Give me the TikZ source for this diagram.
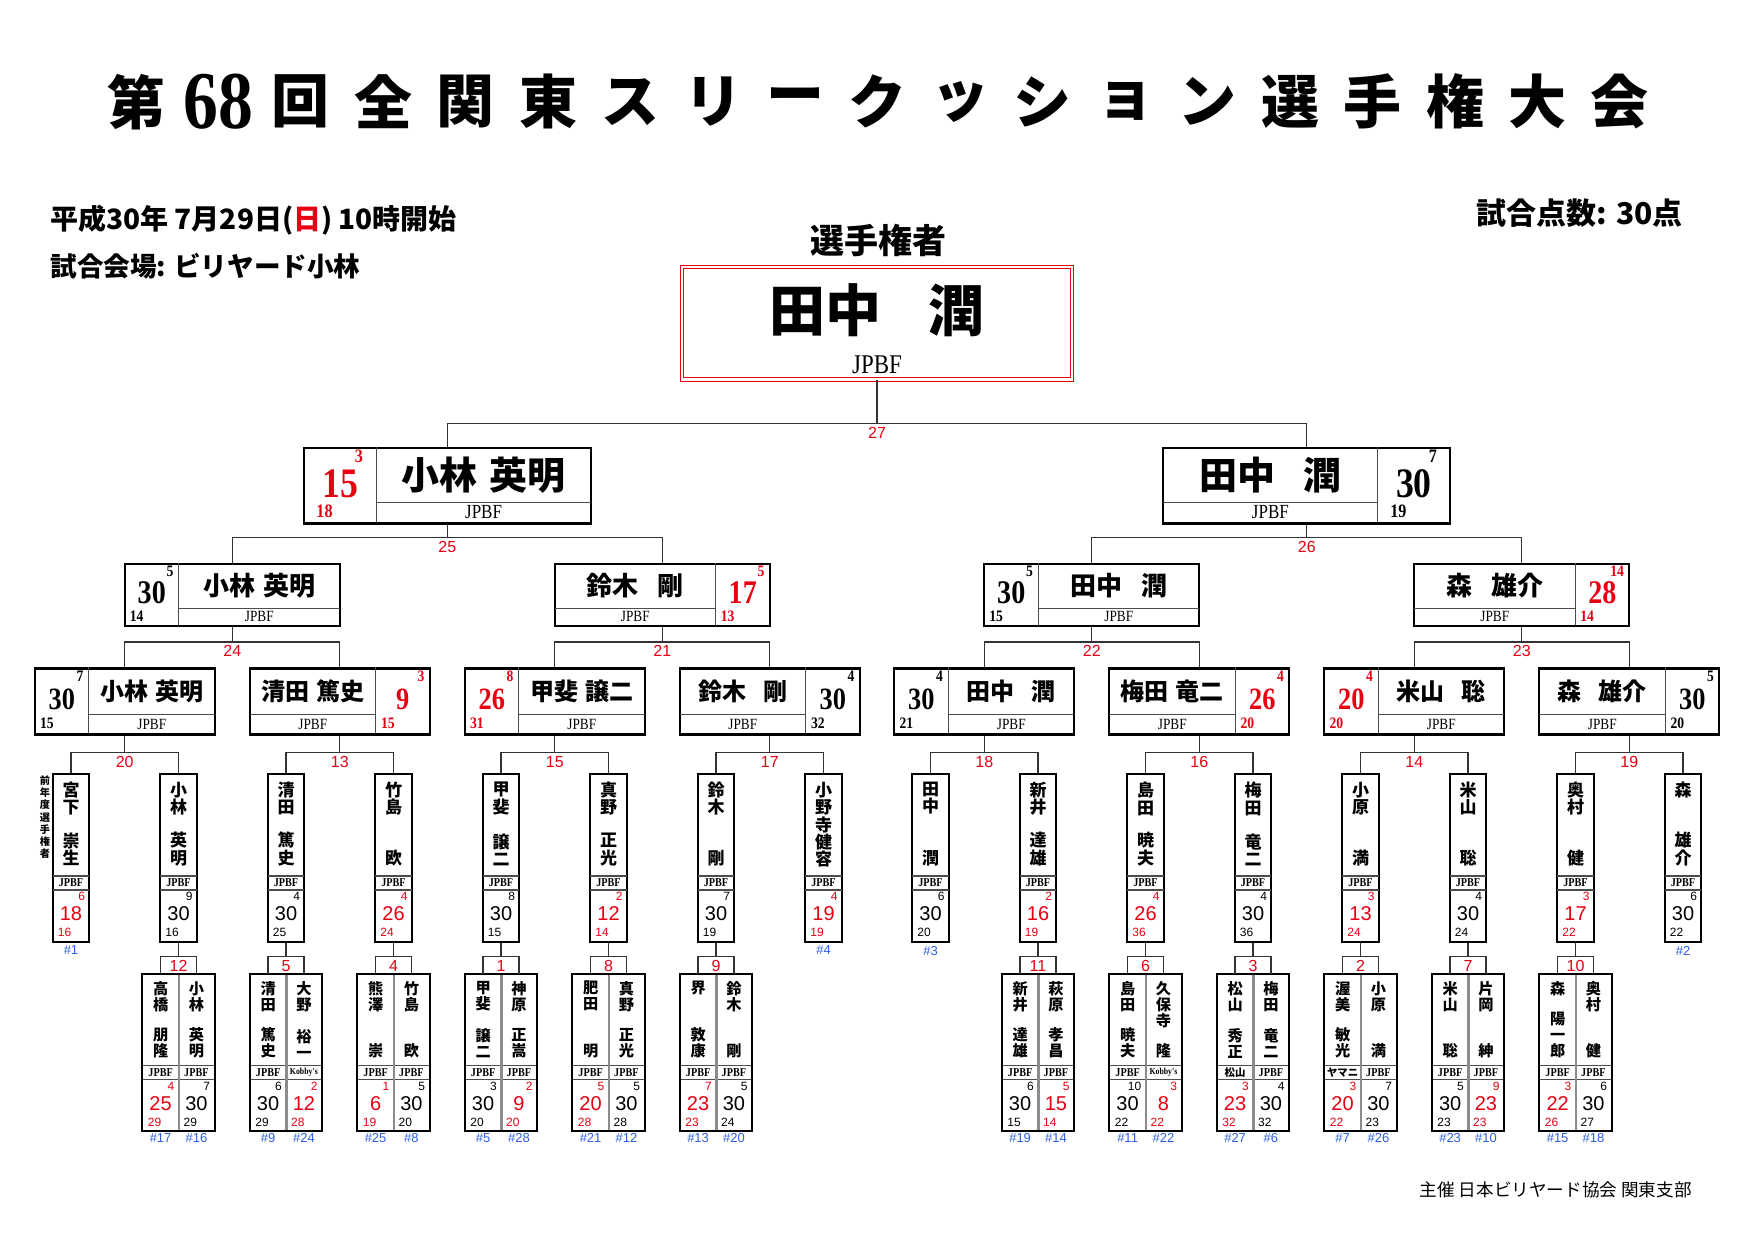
\documentclass[tikz,border=0pt]{standalone}
\usepackage{fontspec}
\newfontfamily\jp{Noto Sans CJK JP}
\newfontfamily\numf[FakeStretch=0.85]{Liberation Serif}
\newfontfamily\sansf{Liberation Sans}
\definecolor{jred}{RGB}{230,0,18}
\definecolor{jblue}{RGB}{45,95,225}
\newcommand\FS[1]{\fontsize{#1pt}{#1pt}\selectfont}
\newcommand\nsp{\hspace{0.3em}}
\newcommand\wsp{\hspace{0.72em}}
\newcommand\titlenum[1]{{\numf\bfseries\FS{41}#1}}
\newcommand\kobby{{\numf\bfseries\FS{4.6}Kobby's}}
\newcommand\jclub[1]{{\jp\bfseries\FS{5.2}#1}}

\tikzset{
 box/.style={draw=black, line width=1.1pt, inner sep=0pt},
 inner/.style={draw=black!70, line width=0.55pt},
 conn/.style={draw=black!80, line width=0.65pt},
 middiv/.style={draw=black!45, line width=1.3pt},
 mlabel/.style={text=jred, font=\sansf\FS{8}, inner sep=0pt, anchor=north},
 seed/.style={text=jblue, font=\sansf\FS{6.5}, inner sep=1.2pt, anchor=north},
 vname/.style={font=\jp\bfseries\fontsize{\vFpt pt}{\vPpt pt}\selectfont, align=center, inner sep=0pt},
 vclub/.style={font=\numf\bfseries\FS{6}, inner sep=0pt},
 vbig/.style={font=\sansf\FS{10}, inner sep=0pt},
 vsmall/.style={font=\sansf\FS{6}, inner sep=0pt},
 hname/.style={font=\jp\bfseries\fontsize{\hNF pt}{\hNF pt}\selectfont, inner sep=0pt},
 hclub/.style={font=\numf\fontsize{\hJF pt}{\hJF pt}\selectfont, inner sep=0pt},
 hbig/.style={font=\numf\bfseries\fontsize{\hBF pt}{\hBF pt}\selectfont, inner sep=0pt},
 hsmall/.style={font=\numf\bfseries\fontsize{\hSF pt}{\hSF pt}\selectfont, inner sep=0pt},
 titlech/.style={font=\jp\bfseries\FS{29}, inner sep=0pt},
 vframe/.style={box},
}

% geometry of the first-round (vertical) boxes
\def\setS{\def\vT{773}\def\vNm{876}\def\vJp{890}\def\vB{941}\def\vW{36.6}%
 \def\vFirst{789.3}\def\vLast{858.7}\def\vFpt{8.5}\def\vPpt{8.68}%
 \def\vSupY{896.7}\def\vBigY{914}\def\vSubY{932.7}\tikzset{vframe/.style={box}}}
\def\setD{\def\vT{974}\def\vNm{1065.7}\def\vJp{1079.3}\def\vB{1130}\def\vW{35.8}%
 \def\vFirst{987.7}\def\vLast{1051.7}\def\vFpt{7.6}\def\vPpt{8}%
 \def\vSupY{1086.7}\def\vBigY{1104}\def\vSubY{1122.3}\tikzset{vframe/.style={draw=none,inner sep=0pt}}}

% name, cx, top chars, bottom chars, club, big, sup, sub, colour
\newcommand\VBox[9]{%
 \node[vframe, minimum width={\vW*0.5pt}, minimum height={(\vB-\vT)*0.5pt}, anchor=north] (#1) at (#2,\vT) {};
 \draw[inner] ({#2-\vW/2},\vNm) -- ({#2+\vW/2},\vNm);
 \draw[inner] ({#2-\vW/2},\vJp) -- ({#2+\vW/2},\vJp);
 \node[vname, anchor=north] (#1t) at (#2,{\vFirst-0.9*\vFpt}) {#3};
 \node[vname, anchor=south] (#1b) at (#2,{\vLast+0.9*\vFpt}) {#4};
 \node[vclub] (#1c) at (#2,{(\vNm+\vJp)/2}) {#5};
 \node[vbig, text=#9] (#1s) at (#2,\vBigY) {#6};
 \node[vsmall, text=#9, anchor=east] (#1u) at ({#2+\vW/2-3.8},\vSupY) {#7};
 \node[vsmall, text=#9, anchor=west] (#1d) at ({#2-\vW/2+4.8},\vSubY) {#8};
}
\newcommand\DFrame[2]{%
 \draw[middiv] (#1.north east) -- (#1.south east);
 \draw[box] (#1.north west) rectangle (#2.south east);}

% geometry of the horizontal boxes
\def\setLtwo{\def\hT{667.3}\def\hH{66}\def\hW{180}\def\hD{47.4}\def\hS{54}\def\hNF{12}\def\hJF{7.8}\def\hBF{15.5}\def\hSF{8}\def\hSupR{5}\def\hSupy{9.4}\def\hBy{31.7}\def\hSubx{5}\def\hSuby{56}}
\def\setLthree{\def\hT{562.7}\def\hH{62.3}\def\hW{215}\def\hD{45.6}\def\hS{54}\def\hNF{13}\def\hJF{7.8}\def\hBF{16.5}\def\hSF{8}\def\hSupR{5}\def\hSupy{9}\def\hBy{29.8}\def\hSubx{4.6}\def\hSuby{54}}
\def\setLfour{\def\hT{446.7}\def\hH{75.6}\def\hW{287}\def\hD{56}\def\hS{72.7}\def\hNF{19}\def\hJF{10}\def\hBF{21}\def\hSF{9.5}\def\hSupR{13}\def\hSupy{10}\def\hBy{37}\def\hSubx{12.3}\def\hSuby{65}}

% name, cx, side (L/R), name text, big, sup, sub, colour
\newcommand\HBoxN[8]{%
 \pgfmathsetmacro\bxl{#2-\hW/2}\pgfmathsetmacro\bxr{#2+\hW/2}%
 \if#3L\pgfmathsetmacro\sxa{\bxl}\pgfmathsetmacro\sxb{\bxl+\hS}\pgfmathsetmacro\nxa{\sxb}\pgfmathsetmacro\nxb{\bxr}\pgfmathsetmacro\dvx{\sxb}%
 \else\pgfmathsetmacro\sxb{\bxr}\pgfmathsetmacro\sxa{\bxr-\hS}\pgfmathsetmacro\nxa{\bxl}\pgfmathsetmacro\nxb{\sxa}\pgfmathsetmacro\dvx{\sxa}\fi
 \node[box, minimum width={\hW*0.5pt}, minimum height={\hH*0.5pt}, anchor=north] (#1) at (#2,\hT) {};
 \draw[inner] (\dvx,\hT) -- (\dvx,{\hT+\hH});
 \draw[inner] (\nxa,{\hT+\hD}) -- (\nxb,{\hT+\hD});
 \node[hname] (#1n) at ({(\nxa+\nxb)/2},{\hT+\hD/2}) {#4};
 \node[hclub] (#1c) at ({(\nxa+\nxb)/2},{\hT+(\hD+\hH)/2}) {JPBF};
 \node[hbig, text=#8] (#1s) at ({(\sxa+\sxb)/2},{\hT+\hBy}) {#5};
 \node[hsmall, text=#8, anchor=east] (#1u) at ({\sxb-\hSupR},{\hT+\hSupy}) {#6};
 \node[hsmall, text=#8, anchor=west] (#1d) at ({\sxa+\hSubx},{\hT+\hSuby}) {#7};
}

% parent, child a, child b, y of the bar, match number
\newcommand\Bracket[5]{%
 \coordinate (#1j) at (#1.south |- 0,#4);
 \draw[conn] (#1.south) -- (#1j);
 \draw[conn] (#2.north) |- (#1j) -| (#3.north);
 \node[mlabel] (#1m) at ([yshift=-1.7pt]#1j) {#5};
}

\begin{document}
\begin{tikzpicture}[x=0.5pt,y=-0.5pt]
\path[use as bounding box, fill=white] (0,0) rectangle (1754,1240);

% title
\foreach \c [count=\i] in {第,{\titlenum{68}},回,全,関,東,ス,リ,ー,ク,ッ,シ,ョ,ン,選,手,権,大,会}
  \node[titlech] (t\i) at ({136+82.44*(\i-1)},101.7) {\c};

\node[anchor=west, inner sep=0pt, font=\jp\bfseries\FS{14}] (date) at (50,220) {平成30年 7月29日(\textcolor{jred}{日}) 10時開始};
\node[anchor=west, inner sep=0pt, font=\jp\bfseries\FS{13.3}] (venue) at (50,266) {試合会場: ビリヤード小林};
\node[anchor=east, inner sep=0pt, font=\jp\bfseries\FS{15}] (pts) at (1683,213) {試合点数: 30点};
\node[anchor=east, inner sep=0pt, font=\jp\FS{8.8}] (org) at (1692,1190) {主催 日本ビリヤード協会 関東支部};
\node[inner sep=0pt, font=\jp\bfseries\FS{17}] (champlbl) at (878,240) {選手権者};

% champion
\node[draw=jred, double=white, double distance=1.2pt, line width=0.5pt, minimum width=195pt, minimum height=56.25pt, anchor=north, inner sep=0pt] (champ) at (877,266.5) {};
\node[inner sep=0pt, font=\jp\bfseries\FS{28}] (champn) at (877,310) {田中\hspace{0.85em}潤};
\node[inner sep=0pt, font=\numf\FS{13.5}] (champc) at (877,365) {JPBF};

% level 4
\setLfour
\HBoxN{l4a}{447.25}{L}{小林\nsp{}英明}{15}{3}{18}{jred}
\HBoxN{l4b}{1306.75}{R}{田中\wsp{}潤}{30}{7}{19}{black}
% level 3
\setLthree
\HBoxN{l3a}{232.25}{L}{小林\nsp{}英明}{30}{5}{14}{black}
\HBoxN{l3b}{662.25}{R}{鈴木\wsp{}剛}{17}{5}{13}{jred}
\HBoxN{l3c}{1091.75}{L}{田中\wsp{}潤}{30}{5}{15}{black}
\HBoxN{l3d}{1521.75}{R}{森\wsp{}雄介}{28}{14}{14}{jred}
% level 2
\setLtwo
\HBoxN{l2a}{124.75}{L}{小林\nsp{}英明}{30}{7}{15}{black}
\HBoxN{l2b}{339.75}{R}{清田\nsp{}篤史}{9}{3}{15}{jred}
\HBoxN{l2c}{554.75}{L}{甲斐\nsp{}譲二}{26}{8}{31}{jred}
\HBoxN{l2d}{769.75}{R}{鈴木\wsp{}剛}{30}{4}{32}{black}
\HBoxN{l2e}{984.25}{L}{田中\wsp{}潤}{30}{4}{21}{black}
\HBoxN{l2f}{1199.25}{R}{梅田\nsp{}竜二}{26}{4}{20}{jred}
\HBoxN{l2g}{1414.25}{L}{米山\wsp{}聡}{20}{4}{20}{jred}
\HBoxN{l2h}{1629.25}{R}{森\wsp{}雄介}{30}{5}{20}{black}

% level 1 (single vertical boxes)
\setS
\VBox{v0}{71}{宮\\下}{崇\\生}{JPBF}{18}{6}{16}{jred}
\VBox{v1}{178.5}{小\\林}{英\\明}{JPBF}{30}{9}{16}{black}
\VBox{v2}{286}{清\\田}{篤\\史}{JPBF}{30}{4}{25}{black}
\VBox{v3}{393.5}{竹\\島}{欧}{JPBF}{26}{4}{24}{jred}
\VBox{v4}{501}{甲\\斐}{譲\\二}{JPBF}{30}{8}{15}{black}
\VBox{v5}{608.5}{真\\野}{正\\光}{JPBF}{12}{2}{14}{jred}
\VBox{v6}{716}{鈴\\木}{剛}{JPBF}{30}{7}{19}{black}
\VBox{v7}{823.5}{小\\野\\寺\\健\\容}{}{JPBF}{19}{4}{19}{jred}
\VBox{v8}{930.5}{田\\中}{潤}{JPBF}{30}{6}{20}{black}
\VBox{v9}{1038}{新\\井}{達\\雄}{JPBF}{16}{2}{19}{jred}
\VBox{v10}{1145.5}{島\\田}{暁\\夫}{JPBF}{26}{4}{36}{jred}
\VBox{v11}{1253}{梅\\田}{竜\\二}{JPBF}{30}{4}{36}{black}
\VBox{v12}{1360.5}{小\\原}{満}{JPBF}{13}{3}{24}{jred}
\VBox{v13}{1468}{米\\山}{聡}{JPBF}{30}{4}{24}{black}
\VBox{v14}{1575.5}{奥\\村}{健}{JPBF}{17}{3}{22}{jred}
\VBox{v15}{1683}{森}{雄\\介}{JPBF}{30}{6}{22}{black}

\node[align=center, anchor=north, inner sep=0pt, font=\jp\bfseries\fontsize{5.1pt}{6.15pt}\selectfont] (prev) at (45,775) {前\\年\\度\\選\\手\\権\\者};

% opening round (double boxes)
\setD
\VBox{d1a}{160.6}{高\\橋}{朋\\隆}{JPBF}{25}{4}{29}{jred}
\VBox{d1b}{196.4}{小\\林}{英\\明}{JPBF}{30}{7}{29}{black}
\VBox{d2a}{268.1}{清\\田}{篤\\史}{JPBF}{30}{6}{29}{black}
\VBox{d2b}{303.9}{大\\野}{裕\\一}{\kobby}{12}{2}{28}{jred}
\VBox{d3a}{375.6}{熊\\澤}{崇}{JPBF}{6}{1}{19}{jred}
\VBox{d3b}{411.4}{竹\\島}{欧}{JPBF}{30}{5}{20}{black}
\VBox{d4a}{483.1}{甲\\斐}{譲\\二}{JPBF}{30}{3}{20}{black}
\VBox{d4b}{518.9}{神\\原}{正\\嵩}{JPBF}{9}{2}{20}{jred}
\VBox{d5a}{590.6}{肥\\田}{明}{JPBF}{20}{5}{28}{jred}
\VBox{d5b}{626.4}{真\\野}{正\\光}{JPBF}{30}{5}{28}{black}
\VBox{d6a}{698.1}{界}{敦\\康}{JPBF}{23}{7}{23}{jred}
\VBox{d6b}{733.9}{鈴\\木}{剛}{JPBF}{30}{5}{24}{black}
\VBox{d9a}{1020.1}{新\\井}{達\\雄}{JPBF}{30}{6}{15}{black}
\VBox{d9b}{1055.9}{萩\\原}{孝\\昌}{JPBF}{15}{5}{14}{jred}
\VBox{d10a}{1127.6}{島\\田}{暁\\夫}{JPBF}{30}{10}{22}{black}
\VBox{d10b}{1163.4}{久\\保\\寺}{隆}{\kobby}{8}{3}{22}{jred}
\VBox{d11a}{1235.1}{松\\山}{秀\\正}{\jclub{松山}}{23}{3}{32}{jred}
\VBox{d11b}{1270.9}{梅\\田}{竜\\二}{JPBF}{30}{4}{32}{black}
\VBox{d12a}{1342.6}{渥\\美}{敏\\光}{\jclub{ヤマニ}}{20}{3}{22}{jred}
\VBox{d12b}{1378.4}{小\\原}{満}{JPBF}{30}{7}{23}{black}
\VBox{d13a}{1450.1}{米\\山}{聡}{JPBF}{30}{5}{23}{black}
\VBox{d13b}{1485.9}{片\\岡}{紳}{JPBF}{23}{9}{23}{jred}
\VBox{d14a}{1557.6}{森}{陽\\一\\郎}{JPBF}{22}{3}{26}{jred}
\VBox{d14b}{1593.4}{奥\\村}{健}{JPBF}{30}{6}{27}{black}
\DFrame{d1a}{d1b}\DFrame{d2a}{d2b}\DFrame{d3a}{d3b}\DFrame{d4a}{d4b}
\DFrame{d5a}{d5b}\DFrame{d6a}{d6b}\DFrame{d9a}{d9b}\DFrame{d10a}{d10b}
\DFrame{d11a}{d11b}\DFrame{d12a}{d12b}\DFrame{d13a}{d13b}\DFrame{d14a}{d14b}

% seeds
\node[seed] (s1) at (v0.south) {\#1};
\node[seed] (s4) at (v7.south) {\#4};
\node[seed] (s3) at (v8.south) {\#3};
\node[seed] (s2) at (v15.south) {\#2};
\foreach \n/\s in {d1a/17,d1b/16,d2a/9,d2b/24,d3a/25,d3b/8,d4a/5,d4b/28,d5a/21,d5b/12,d6a/13,d6b/20,d9a/19,d9b/14,d10a/11,d10b/22,d11a/27,d11b/6,d12a/7,d12b/26,d13a/23,d13b/10,d14a/15,d14b/18}
  \node[seed] (s\s) at (\n.south) {\#\s};

% connectors
\Bracket{v1}{d1a}{d1b}{956.7}{12}
\Bracket{v2}{d2a}{d2b}{956.7}{5}
\Bracket{v3}{d3a}{d3b}{956.7}{4}
\Bracket{v4}{d4a}{d4b}{956.7}{1}
\Bracket{v5}{d5a}{d5b}{956.7}{8}
\Bracket{v6}{d6a}{d6b}{956.7}{9}
\Bracket{v9}{d9a}{d9b}{956.7}{11}
\Bracket{v10}{d10a}{d10b}{956.7}{6}
\Bracket{v11}{d11a}{d11b}{956.7}{3}
\Bracket{v12}{d12a}{d12b}{956.7}{2}
\Bracket{v13}{d13a}{d13b}{956.7}{7}
\Bracket{v14}{d14a}{d14b}{956.7}{10}

\Bracket{l2a}{v0}{v1}{752.7}{20}
\Bracket{l2b}{v2}{v3}{752.7}{13}
\Bracket{l2c}{v4}{v5}{752.7}{15}
\Bracket{l2d}{v6}{v7}{752.7}{17}
\Bracket{l2e}{v8}{v9}{752.7}{18}
\Bracket{l2f}{v10}{v11}{752.7}{16}
\Bracket{l2g}{v12}{v13}{752.7}{14}
\Bracket{l2h}{v14}{v15}{752.7}{19}

\Bracket{l3a}{l2a}{l2b}{642}{24}
\Bracket{l3b}{l2c}{l2d}{642}{21}
\Bracket{l3c}{l2e}{l2f}{642}{22}
\Bracket{l3d}{l2g}{l2h}{642}{23}

\Bracket{l4a}{l3a}{l3b}{537.3}{25}
\Bracket{l4b}{l3c}{l3d}{537.3}{26}

\Bracket{champ}{l4a}{l4b}{423.3}{27}
\end{tikzpicture}
\end{document}
